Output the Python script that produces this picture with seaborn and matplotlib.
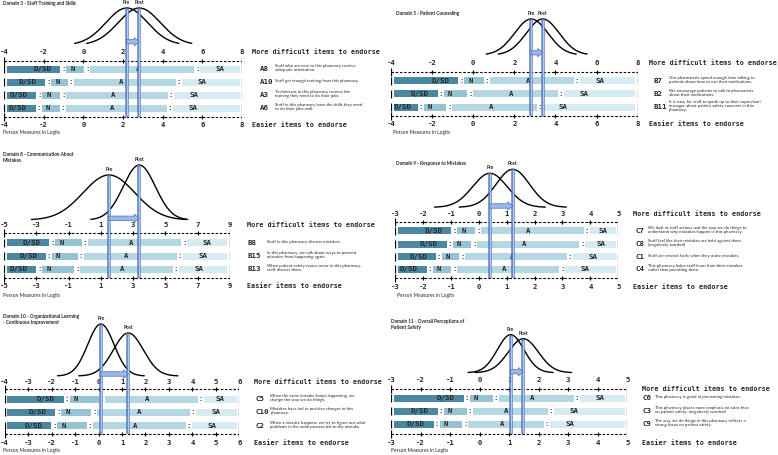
import numpy as np
import matplotlib.pyplot as plt
import seaborn as sns

sns.set_theme(style="white")
plt.rcParams['font.family'] = ['Lato', 'DejaVu Sans']

# ---- data (logits) ----
cats = ["D/SD", "N", "A", "SA"]
cat_colors = ["#4b87a0", "#96c3d4", "#b4d7e3", "#d7ebf2"]

d3_items = ["A8", "A10", "A3", "A6"]
d3_text = ["Staff who are new to this pharmacy receive\nadequate orientation.",
           "Staff get enough training from this pharmacy.",
           "Technicians in this pharmacy receive the\ntraining they need to do their jobs.",
           "Staff in this pharmacy have the skills they need\nto do their jobs well."]
d3_thr = [[-1.01, 0.20, 5.75], [-1.77, -0.62, 4.82], [-2.22, -1.01, 4.41], [-2.25, -1.05, 4.35]]
d3_pre = [2.19, 1.05]
d3_post = [2.82, 1.06]

d5_items = ["B7", "B2", "B11"]
d5_text = ["Our pharmacists spend enough time talking to\npatients about how to use their medications.",
           "We encourage patients to talk to pharmacists\nabout their medications.",
           "It is easy for staff to speak up to their supervisor/\nmanager about patient safety concerns in this\npharmacy."]
d5_thr = [[-0.58, 0.65, 5.05], [-1.57, -0.14, 4.25], [-2.56, -1.16, 3.25]]
d5_pre = [2.82, 0.81]
d5_post = [3.38, 0.80]

d8_items = ["B8", "B15", "B13"]
d8_text = ["Staff in this pharmacy discuss mistakes.",
           "In this pharmacy, we talk about ways to prevent\nmistakes from happening again.",
           "When patient safety issues occur in this pharmacy,\nstaff discuss them."]
d8_thr = [[-2.0, 0.02, 6.17], [-2.21, -0.23, 5.9], [-2.81, -0.46, 5.64]]
d8_pre = [1.5, 1.6]
d8_post = [3.38, 1.0]

d9_items = ["C7", "C8", "C1", "C4"]
d9_text = ["We look at staff actions and the way we do things to\nunderstand why mistakes happen in this pharmacy.",
           "Staff feel like their mistakes are held against them.\n(negatively worded)",
           "Staff are treated fairly when they make mistakes.",
           "This pharmacy helps staff learn from their mistakes\nrather than punishing them."]
d9_thr = [[-0.87, -0.01, 3.87], [-1.03, -0.16, 3.71], [-1.42, -0.59, 3.27], [-1.75, -0.87, 3.0]]
d9_pre = [0.40, 0.62]
d9_post = [1.22, 0.60]

d10_items = ["C5", "C10", "C2"]
d10_text = ["When the same mistake keeps happening, we\nchange the way we do things.",
            "Mistakes have led to positive changes in this\npharmacy.",
            "When a mistake happens, we try to figure out what\nproblems in the work process led to the mistake."]
d10_thr = [[-1.36, 0.13, 4.35], [-1.72, -0.18, 4.01], [-1.89, -0.37, 3.85]]
d10_pre = [0.10, 0.56]
d10_post = [1.27, 0.64]

d11_items = ["C6", "C3", "C9"]
d11_text = ["This pharmacy is good at preventing mistakes.",
            "This pharmacy places more emphasis on sales than\non patient safety. (negatively worded)",
            "The way we do things in this pharmacy reflects a\nstrong focus on patient safety."]
d11_thr = [[-0.44, 0.55, 3.29], [-1.32, -0.33, 2.42], [-1.45, -0.49, 2.27]]
d11_pre = [1.05, 0.45]
d11_post = [1.48, 0.51]

# ---- layout (figure pixels) ----
W, H = 778, 455
panels = [
    dict(title="Domain 3 - Staff Training and Skills", items=d3_items, text=d3_text, thr=d3_thr,
         pre=d3_pre, post=d3_post, x0=4, x1=242, lo=-4, hi=8, step=2, tail=2.5,
         ticks_top=52, dash_top=61.3, rows=[69.3, 82.3, 95.3, 108.3], dash_bot=117.3, ticks_bot=125,
         title_xy=(3, 3.7), person_xy=(3, 132.7), base=45, h=(37, 37), arrow_y=41.7,
         more_x=252, more_y=52, item_x=260, desc_x=275),
    dict(title="Domain 5 - Patient Counseling", items=d5_items, text=d5_text, thr=d5_thr,
         pre=d5_pre, post=d5_post, x0=391, x1=637.7, lo=-4, hi=8, step=2, tail=2.7,
         ticks_top=63.3, dash_top=71.7, rows=[80.7, 93.7, 107], dash_bot=116, ticks_bot=124.3,
         title_xy=(396, 14), person_xy=(393, 132.7), base=55, h=(36, 36), arrow_y=52.7,
         more_x=649, more_y=63.3, item_x=653, desc_x=669),
    dict(title="Domain 8 - Communication About\nMistakes", items=d8_items, text=d8_text, thr=d8_thr,
         pre=d8_pre, post=d8_post, x0=4, x1=230, lo=-5, hi=9, step=2, tail=3.0,
         ticks_top=225, dash_top=232.7, rows=[242.7, 256, 269], dash_bot=277.7, ticks_bot=286,
         title_xy=(3, 157.9), person_xy=(3, 295.7), base=220, h=(45, 55), arrow_y=218.3,
         more_x=246.7, more_y=225, item_x=247.3, desc_x=266.7),
    dict(title="Domain 9 - Response to Mistakes", items=d9_items, text=d9_text, thr=d9_thr,
         pre=d9_pre, post=d9_post, x0=395, x1=618.3, lo=-3, hi=5, step=1, tail=3.2,
         ticks_top=214, dash_top=221.7, rows=[230.7, 244, 256.7, 269.3], dash_bot=278, ticks_bot=286.7,
         title_xy=(396, 163.3), person_xy=(397, 295.7), base=207.3, h=(34, 38), arrow_y=206,
         more_x=632.7, more_y=214, item_x=636, desc_x=648.3),
    dict(title="Domain 10 - Organizational Learning\n- Continuous Improvement", items=d10_items, text=d10_text,
         thr=d10_thr, pre=d10_pre, post=d10_post, x0=4.7, x1=239.3, lo=-4, hi=6, step=1, tail=3.3,
         ticks_top=382.3, dash_top=389.3, rows=[399.3, 412.3, 425.7], dash_bot=434, ticks_bot=442.7,
         title_xy=(3, 319.7), person_xy=(3, 450.7), base=376, h=(52, 43), arrow_y=374,
         more_x=254, more_y=382.3, item_x=255, desc_x=270.5),
    dict(title="Domain 11 - Overall Perceptions of\nPatient Safety", items=d11_items, text=d11_text,
         thr=d11_thr, pre=d11_pre, post=d11_post, x0=391, x1=627.3, lo=-3, hi=5, step=1, tail=3.2,
         ticks_top=380, dash_top=389.3, rows=[398.3, 411, 424.3], dash_bot=434, ticks_bot=442.7,
         title_xy=(391, 324.5), person_xy=(391, 450.7), base=372.7, h=(38, 34), arrow_y=371.7,
         more_x=641.7, more_y=389.3, item_x=642.3, desc_x=655),
]

mono = dict(family=['DejaVu Sans Mono'], fontweight='bold')
fig = plt.figure(figsize=(W / 100, H / 100), dpi=100)


def ftext(x, y, s, **kw):
    fig.text(x / W, 1 - y / H, s, **kw)


for p in panels:
    ax = fig.add_axes([p['x0'] / W, 0, (p['x1'] - p['x0']) / W, 1])
    lo, hi = p['lo'], p['hi']
    px = (p['x1'] - p['x0']) / (hi - lo)   # pixels per logit
    gap, pad = 3 / px, 2.5 / px

    # distributions
    for (m, s), hh in zip([p['pre'], p['post']], p['h']):
        xs = np.linspace(m - p['tail'] * s, m + p['tail'] * s, 200)
        ys = p['base'] - hh * np.exp(-0.5 * ((xs - m) / s) ** 2)
        sns.lineplot(x=xs, y=ys, ax=ax, color='black', lw=1.0, sort=False, estimator=None, legend=False)

    # tick labels and dashed rulers
    ticks = np.arange(lo, hi + 0.01, p['step'])
    for v in ticks:
        for yy in (p['ticks_top'], p['ticks_bot']):
            ax.text(v, yy, f"{int(v)}", ha='center', va='center', fontsize=5.2, **mono)
    for yy in (p['dash_top'], p['dash_bot']):
        ax.hlines(yy, lo, hi, colors='black', lw=0.8, linestyles=(0, (2.2, 1.6)))
        ax.plot(ticks[1:-1], [yy] * (len(ticks) - 2), '+', color='black', ms=3.5, mew=0.8)
    for yy in [p['dash_top']] + p['rows'] + [p['dash_bot']]:
        ax.vlines([lo, hi], yy - 4, yy + 4, colors='black', lw=0.9)

    # category bars
    for yy, thr in zip(p['rows'], p['thr']):
        edges = [lo + pad] + thr + [hi - pad]
        for k in range(4):
            a = edges[k] + (gap if k > 0 else 0)
            b = edges[k + 1] - (gap if k < 3 else 0)
            ax.barh(yy, b - a, left=a, height=7, color=cat_colors[k], lw=0)
            w = b - a
            if k == 0:
                ax.text(max(b - 18 / px, a + 9 / px), yy, cats[k], ha='center', va='center', fontsize=5.3, **mono)
            elif k == 1:
                ax.text(a + 4 / px, yy, cats[k], ha='left', va='center', fontsize=5.3, **mono)
            elif k == 2:
                ax.text(a + w / 2 - 4 / px, yy, cats[k], ha='center', va='center', fontsize=5.3, **mono)
            else:
                ax.text(a + min(w / 2, 20 / px), yy, cats[k], ha='center', va='center', fontsize=5.3, **mono)
        for t in thr:
            ax.text(t, yy, ":", ha='center', va='center', fontsize=5.3, **mono)

    # pre / post markers
    for (m, s), hh, lab in zip([p['pre'], p['post']], p['h'], ["Pre", "Post"]):
        top = p['base'] - hh
        ax.vlines(m, top, p['dash_bot'], colors='#4d72b8', lw=2.6, alpha=0.85, zorder=4)
        ax.vlines(m, top + 1, p['dash_bot'] - 1, colors='#b3c9ee', lw=0.9, zorder=5)
        ax.text(m, top - 5.5, lab, ha='center', va='center', fontsize=3.5, fontweight='bold')
    ax.annotate('', xy=(p['post'][0], p['arrow_y']), xytext=(p['pre'][0], p['arrow_y']),
                arrowprops=dict(arrowstyle='simple,head_length=0.45,head_width=0.75,tail_width=0.4',
                                fc='#9bb9e8', ec='#4d72b8', lw=0.5, shrinkA=0, shrinkB=0, mutation_scale=8),
                zorder=6)

    ax.set_xlim(lo, hi)
    ax.set_ylim(H, 0)
    ax.axis('off')

    # side texts
    ftext(*p['title_xy'], p['title'], fontsize=3.4, fontweight='bold', va='center', linespacing=1.2)
    ftext(*p['person_xy'], "Person Measures in Logits", fontsize=3.5, va='center')
    ftext(p['more_x'], p['more_y'], "More difficult items to endorse", fontsize=4.9, va='center', **mono)
    ftext(p['more_x'], p['ticks_bot'], "Easier items to endorse", fontsize=4.9, va='center', **mono)
    for yy, it, tx in zip(p['rows'], p['items'], p['text']):
        ftext(p['item_x'], yy, it, fontsize=5.3, va='center', **mono)
        ftext(p['desc_x'], yy - 1, tx, fontsize=3.1, va='center', linespacing=1.1)

fig.savefig('out.png', dpi=100)
